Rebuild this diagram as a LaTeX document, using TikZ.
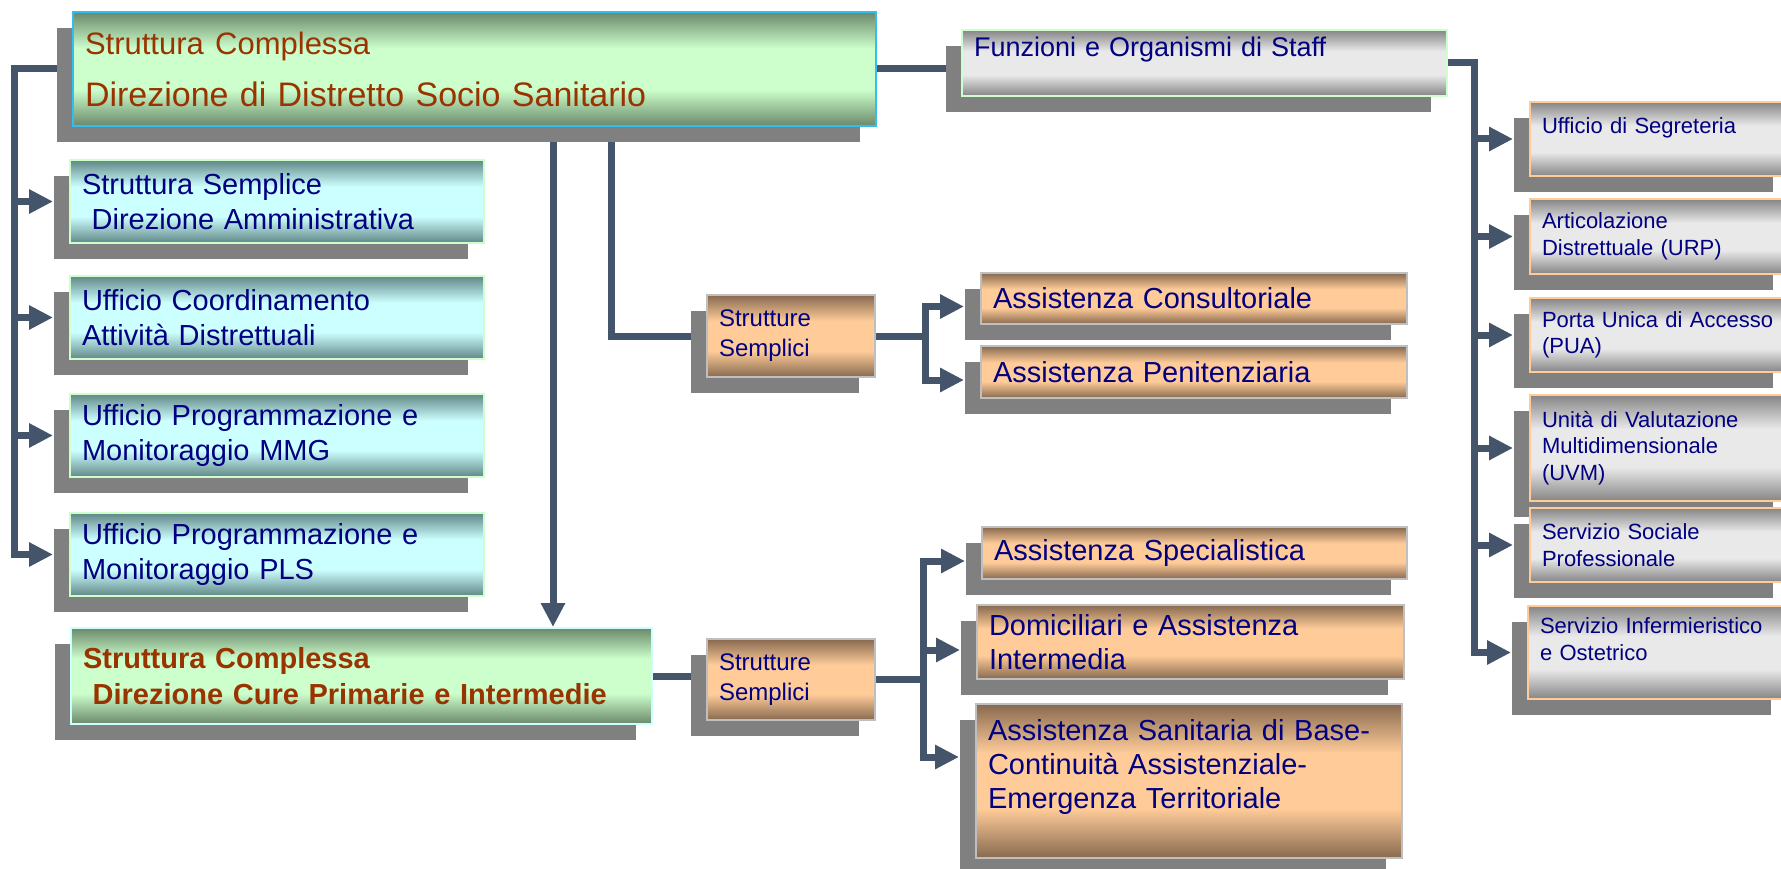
\documentclass[tikz,border=0pt]{standalone}
\usepackage{fontspec}
\setmainfont{Liberation Sans}
\usepackage{tikz}
\usetikzlibrary{arrows.meta,shadows,backgrounds}
\usepackage{xcolor}

\definecolor{linkblue}{HTML}{44546A}
\definecolor{shadowgrey}{HTML}{808080}
\definecolor{textnavy}{HTML}{000080}
\definecolor{textbrown}{HTML}{993300}
\definecolor{greenlt}{HTML}{CCFFCC}
\definecolor{greendk}{HTML}{6A886A}
\definecolor{cyanlt}{HTML}{CCFFFF}
\definecolor{cyandk}{HTML}{618686}
\definecolor{orangelt}{HTML}{FFCC99}
\definecolor{orangedk}{HTML}{87694F}
\definecolor{greylt}{HTML}{E9E9E9}
\definecolor{greydk}{HTML}{858585}

% bars: dark at top and bottom edge, light in the middle
\pgfdeclareverticalshading{greenbar}{100bp}{color(0bp)=(greendk); color(25bp)=(greendk); color(41bp)=(greenlt); color(59bp)=(greenlt); color(75bp)=(greendk); color(100bp)=(greendk)}
\pgfdeclareverticalshading{cyanbar}{100bp}{color(0bp)=(cyandk); color(25bp)=(cyandk); color(41bp)=(cyanlt); color(59bp)=(cyanlt); color(75bp)=(cyandk); color(100bp)=(cyandk)}
\pgfdeclareverticalshading{orangebar}{100bp}{color(0bp)=(orangedk); color(25bp)=(orangedk); color(41bp)=(orangelt); color(59bp)=(orangelt); color(75bp)=(orangedk); color(100bp)=(orangedk)}
\pgfdeclareverticalshading{greybar}{100bp}{color(0bp)=(greydk); color(25bp)=(greydk); color(41bp)=(greylt); color(59bp)=(greylt); color(75bp)=(greydk); color(100bp)=(greydk)}

\tikzset{
  orgbox/.style={anchor=north west, align=left, inner xsep=12pt, inner ysep=0pt, line width=2pt, text=textnavy,
                 drop shadow={shadow xshift=-16pt, shadow yshift=-16pt, fill=shadowgrey, opacity=1}},
  greenbox/.style={orgbox, shading=greenbar, draw=#1},
  cyanbox/.style={orgbox, shading=cyanbar, draw=greenlt, text width=390pt, minimum height=83pt,
                  font=\fontsize{29}{35}\selectfont},
  orangebox/.style={orgbox, shading=orangebar, draw=black!25, font=\fontsize{29}{34}\selectfont},
  greybox/.style={orgbox, shading=greybar, draw=#1},
  staffbox/.style={greybox=orangelt, text width=235pt, font=\fontsize{22}{26.5}\selectfont},
  bus/.style={draw=linkblue, line width=7pt, line cap=rect},
  arr/.style={-{Triangle[length=24pt,width=23pt]}},
}

\begin{document}
\begin{tikzpicture}[x=1pt,y=-1pt]
        \useasboundingbox (0,0) rectangle (1781,869);

        % direzione di distretto
        \node[greenbox=cyan!80, text=textbrown, font=\fontsize{34}{40}\selectfont, text width=779pt, minimum height=114pt]
                (dds) at (72,11) {{\fontsize{31}{40}\selectfont Struttura Complessa}\\[12pt]Direzione di Distretto Socio Sanitario};

        % uffici a sinistra
        \node[cyanbox] (ssda)  at (69,159) {Struttura Semplice\\\ Direzione Amministrativa};
        \node[cyanbox] (ucad)  at (69,275) {Ufficio Coordinamento\\Attività Distrettuali};
        \node[cyanbox] (upmmg) at (69,393) {Ufficio Programmazione e\\Monitoraggio MMG};
        \node[cyanbox] (uppls) at (69,512) {Ufficio Programmazione e\\Monitoraggio PLS};

        \node[greenbox=cyanlt, text=textbrown, font=\bfseries\fontsize{29}{36}\selectfont, text width=557pt, minimum height=96pt]
                (dcp) at (70,627) {Struttura Complessa\\\ Direzione Cure Primarie e Intermedie};

        % strutture semplici
        \node[orangebox, font=\fontsize{24}{30}\selectfont, text width=144pt, minimum height=82pt] (ss1) at (706,294) {Strutture\\Semplici};
        \node[orangebox, font=\fontsize{24}{30}\selectfont, text width=144pt, minimum height=81pt] (ss2) at (706,638) {Strutture\\Semplici};

        \node[orangebox, text width=402pt, minimum height=51pt]  (cons) at (980,272) {Assistenza Consultoriale};
        \node[orangebox, text width=402pt, minimum height=52pt]  (peni) at (980,345) {Assistenza Penitenziaria};
        \node[orangebox, text width=401pt, minimum height=52pt]  (spec) at (981,526) {Assistenza Specialistica};
        \node[orangebox, text width=403pt, minimum height=74pt]  (domi) at (976,604) {Domiciliari e Assistenza\\Intermedia};
        \node[orangebox, text width=402pt, minimum height=154pt] (base) at (975,703) {Assistenza Sanitaria di Base-\\Continuità Assistenziale-\\Emergenza Territoriale\\\mbox{}};

        % staff
        \node[greybox=greenlt, text width=461pt, minimum height=66pt, font=\fontsize{27}{33}\selectfont]
                (staff) at (961,29) {Funzioni e Organismi di Staff\\\mbox{}};
        \node[staffbox, minimum height=74pt]  (segr) at (1529,101) {Ufficio di Segreteria\\\mbox{}};
        \node[staffbox, minimum height=75pt]  (urp)  at (1529,198) {Articolazione\\Distrettuale (URP)};
        \node[staffbox, minimum height=74pt]  (pua)  at (1529,297) {Porta Unica di Accesso\\(PUA)};
        \node[staffbox, minimum height=106pt] (uvm)  at (1529,394) {Unità di Valutazione\\Multidimensionale\\(UVM)};
        \node[staffbox, minimum height=74pt]  (ssp)  at (1529,507) {Servizio Sociale\\Professionale};
        \node[staffbox, minimum height=93pt]  (sio)  at (1527,605) {Servizio Infermieristico\\e Ostetrico\\\mbox{}};

        \begin{scope}[on background layer]
        \coordinate (lb)  at (14,0);
        \coordinate (vx)  at (553,0);
        \coordinate (vx2) at (611,0);
        \coordinate (rb)  at (1474,0);

        % left bus
        \draw[bus] (dds.west) -| (lb |- uppls.west);
        \foreach \b in {ssda,ucad,upmmg,uppls}
                \draw[bus,arr] (lb |- \b.west) -- ([xshift=-16pt]\b.west);

        \draw[bus,arr] (dds.south -| vx) -- (dcp.north -| vx);
        \draw[bus] (dds.south -| vx2) |- (ss1.west);
        \draw[bus] (dcp.east) -- (dcp.east -| ss2.west);

        \draw[bus] (ss1.east) -- ++(49,0) coordinate (j1);
        \foreach \b in {cons,peni}
                \draw[bus,arr] (j1) |- ([xshift=-16pt,yshift=-8pt]\b.west);

        \draw[bus] (ss2.east) -- ++(47,0) coordinate (j2);
        \foreach \b in {spec,domi}
                \draw[bus,arr] (j2) |- ([xshift=-16pt,yshift=-8pt]\b.west);
        \draw[bus,arr] (j2) |- ([xshift=-16pt,yshift=-54pt]base.north west);

        % right bus
        \draw[bus] (dds.east) -- (dds.east -| staff.west);
        \draw[bus] (staff.east) -| (rb |- sio.west);
        \foreach \b in {segr,urp,pua,uvm,ssp,sio}
                \draw[bus,arr] (rb |- \b.west) -- ([xshift=-16pt]\b.west);
        \end{scope}
\end{tikzpicture}
\end{document}
